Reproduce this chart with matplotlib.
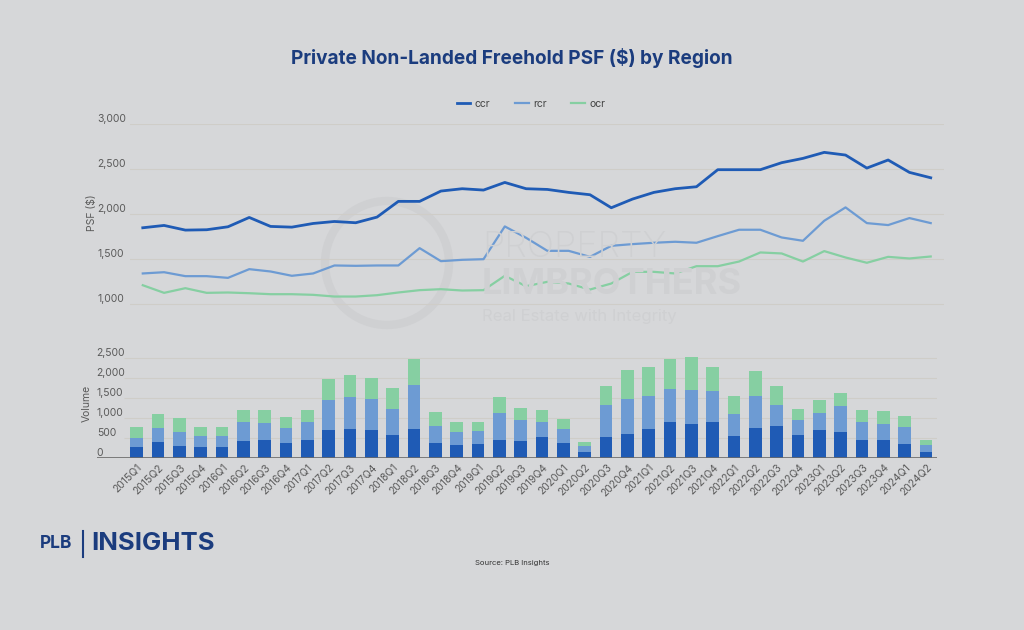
import matplotlib.pyplot as plt
from matplotlib.patches import Ellipse
from matplotlib.ticker import FuncFormatter
from matplotlib.transforms import ScaledTranslation

plt.rcParams['font.family'] = ['Inter', 'DejaVu Sans']

quarters = [f"{y}Q{q}" for y in range(2015, 2025) for q in range(1, 5)][:38]

# PSF by region
psf_ccr = [1844, 1870, 1818, 1822, 1855, 1959, 1859, 1851, 1892, 1914,
           1900, 1963, 2138, 2138, 2253, 2279, 2264, 2349, 2279, 2271,
           2238, 2212, 2067, 2164, 2238, 2279, 2301, 2491, 2491, 2491,
           2569, 2617, 2684, 2654, 2509, 2599, 2461, 2401]
psf_rcr = [1335, 1349, 1305, 1305, 1286, 1383, 1357, 1309, 1335, 1424,
           1420, 1424, 1424, 1617, 1472, 1487, 1494, 1859, 1732, 1587,
           1587, 1520, 1643, 1662, 1677, 1688, 1677, 1751, 1822, 1822,
           1736, 1699, 1922, 2071, 1896, 1874, 1952, 1896]
psf_ocr = [1204, 1119, 1171, 1119, 1123, 1115, 1104, 1104, 1097, 1078,
           1078, 1093, 1123, 1149, 1160, 1145, 1149, 1309, 1193, 1242,
           1223, 1156, 1223, 1353, 1353, 1335, 1416, 1416, 1468, 1569,
           1558, 1468, 1584, 1513, 1454, 1520, 1502, 1524]

# transaction volume by region
vol_ccr = [268, 403, 310, 268, 268, 428, 445, 378, 461, 696,
           730, 705, 579, 713, 378, 327, 352, 445, 428, 529,
           386, 159, 529, 604, 713, 906, 839, 906, 537, 755,
           789, 562, 696, 638, 445, 461, 352, 143]
vol_rcr = [227, 344, 328, 269, 277, 461, 428, 369, 437, 755,
           789, 763, 638, 1099, 411, 327, 319, 671, 528, 377,
           327, 135, 797, 864, 839, 814, 864, 764, 554, 780,
           537, 378, 428, 662, 444, 395, 428, 184]
vol_ocr = [268, 352, 360, 243, 227, 319, 335, 268, 293, 521,
           545, 520, 537, 663, 352, 244, 227, 394, 286, 302,
           269, 100, 461, 739, 730, 738, 814, 595, 444, 638,
           461, 277, 311, 328, 319, 310, 277, 118]

BG = '#d6d7d9'
NAVY = '#1b3c7e'
C_CCR = '#1f5bb5'
C_RCR = '#6d9bd3'
C_OCR = '#86cfa2'
TXT = '#5a5a5a'
WM = '#cfd0d2'

fig = plt.figure(figsize=(10.24, 6.3), dpi=100, facecolor=BG)
W, H = 1024, 630

def rect(x0, y0, x1, y1):
    return [x0 / W, 1 - y1 / H, (x1 - x0) / W, (y1 - y0) / H]

def lift(ax):
    # tick labels sit a little above their gridlines
    off = ScaledTranslation(0, 6 / 100, fig.dpi_scale_trans)
    for lab in ax.get_yticklabels():
        lab.set_horizontalalignment('left')
        lab.set_transform(lab.get_transform() + off)

x = list(range(len(quarters)))

# watermark
fig.add_artist(Ellipse((387 / W, 1 - 263 / H), 124 / W, 124 / H,
                       transform=fig.transFigure, fill=False, ec=WM, lw=6, zorder=0))
fig.text(482 / W, 1 - 248 / H, 'PROPERTY', fontsize=26, color=WM,
         fontweight='light', va='center', ha='left', zorder=0)
fig.text(482 / W, 1 - 285 / H, 'LIMBROTHERS', fontsize=26, color=WM,
         fontweight='bold', va='center', ha='left', zorder=0)
fig.text(482 / W, 1 - 317 / H, 'Real Estate with Integrity', fontsize=12,
         color=WM, va='center', ha='left', zorder=0)

# line chart
ax1 = fig.add_axes(rect(130, 124, 943.5, 317))
ax1.set_facecolor('none')
ax1.plot(x, psf_ccr, color=C_CCR, lw=2.0, label='ccr')
ax1.plot(x, psf_rcr, color=C_RCR, lw=1.6, label='rcr')
ax1.plot(x, psf_ocr, color=C_OCR, lw=1.6, label='ocr')
ax1.set_xlim(-0.6, 37.6)
ax1.set_ylim(850, 3000)
ax1.set_yticks([1000, 1500, 2000, 2500, 3000])
ax1.yaxis.set_major_formatter(FuncFormatter(lambda v, p: f"{int(v):,}"))
ax1.grid(axis='y', color='#cfcdc8', lw=0.8)
ax1.set_xticks([])
for s in ax1.spines.values():
    s.set_visible(False)
ax1.tick_params(axis='y', length=0, labelsize=7.5, labelcolor=TXT, pad=23.5)
lift(ax1)
fig.text(92 / W, 1 - 213 / H, 'PSF ($)', rotation=90, ha='center', va='center',
         fontsize=7.5, color=TXT)
fig.legend(*ax1.get_legend_handles_labels(), loc='center', ncol=3,
           bbox_to_anchor=(531 / W, 1 - 104 / H), frameon=False, fontsize=7.5,
           labelcolor='#444444', handlelength=1.3, handletextpad=0.4,
           columnspacing=2.4)

# bar chart
ax2 = fig.add_axes(rect(96.7, 357, 936.7, 458))
ax2.set_facecolor('none')
b1 = [a + b for a, b in zip(vol_ccr, vol_rcr)]
ax2.bar(x, vol_ccr, width=0.6, color=C_CCR, zorder=3)
ax2.bar(x, vol_rcr, width=0.6, bottom=vol_ccr, color=C_RCR, zorder=3)
ax2.bar(x, vol_ocr, width=0.6, bottom=b1, color=C_OCR, zorder=3)
ax2.set_xlim(-1.875, 37.5)
ax2.set_ylim(0, 2520)
yt = [0, 500, 1000, 1500, 2000, 2500]
ax2.set_yticks(yt)
ax2.yaxis.set_major_formatter(FuncFormatter(lambda v, p: f"{int(v):,}"))
ax2.hlines(yt[1:], -0.6, 37.5, color='#cfcdc8', lw=0.8, zorder=1)
ax2.axhline(0, color='#6a6a6a', lw=1.2, zorder=4)
for s in ax2.spines.values():
    s.set_visible(False)
ax2.tick_params(axis='y', length=0, labelsize=7.5, labelcolor=TXT, pad=0)
lift(ax2)
ax2.set_xticks(x)
ax2.set_xticklabels(quarters, rotation=45, ha='right', rotation_mode='anchor',
                    fontsize=7.5, color=TXT)
ax2.tick_params(axis='x', length=0, pad=3)
fig.text(87 / W, 1 - 403 / H, 'Volume', rotation=90, ha='center', va='center',
         fontsize=7.5, color=TXT)

# title and footer
fig.text(512 / W, 1 - 58 / H, 'Private Non-Landed Freehold PSF ($) by Region',
         ha='center', va='center', fontsize=13.7, fontweight='bold', color=NAVY)
fig.text(40 / W, 1 - 544 / H, 'PLB', ha='left', va='center', fontsize=12.5,
         fontweight='bold', color=NAVY)
fig.add_artist(plt.Line2D([83 / W, 83 / W], [1 - 531 / H, 1 - 557 / H],
                          color=NAVY, lw=1.5))
fig.text(91 / W, 1 - 543 / H, 'INSIGHTS', ha='left', va='center', fontsize=18.5,
         fontweight='bold', color=NAVY)
fig.text(512 / W, 1 - 563 / H, 'Source: PLB Insights', ha='center', va='center',
         fontsize=5.5, color='#333333')

fig.savefig('out.png', dpi=100, facecolor=BG)
